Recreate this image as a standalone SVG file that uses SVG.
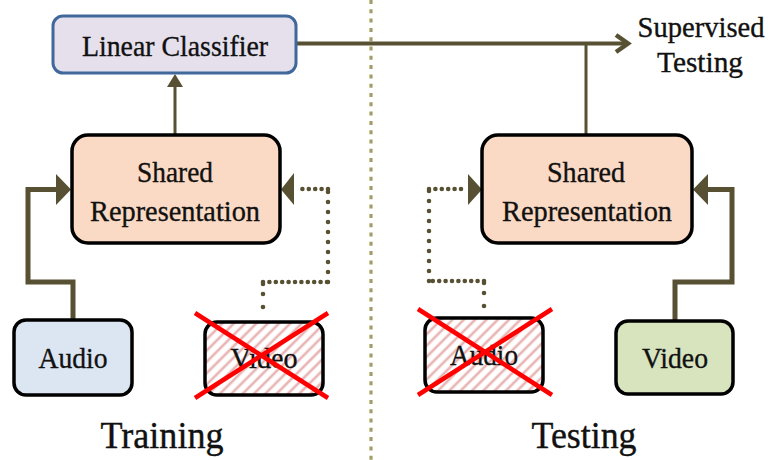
<svg xmlns="http://www.w3.org/2000/svg" width="772" height="460" viewBox="0 0 772 460">
  <defs>
    <pattern id="hatch" width="8" height="8" patternUnits="userSpaceOnUse" patternTransform="rotate(45)">
      <rect width="8" height="8" fill="#ffffff"/>
      <line x1="2" y1="0" x2="2" y2="8" stroke="#e8b4b4" stroke-width="2.6"/>
    </pattern>
    <style>
      .lbl { font-family: "Liberation Serif", "DejaVu Serif", serif; font-size: 30px; fill: #111; stroke: #111; stroke-width: 0.35; text-anchor: middle; }
      .big { font-family: "Liberation Serif", "DejaVu Serif", serif; font-size: 38px; fill: #111; stroke: #111; stroke-width: 0.4; text-anchor: middle; }
      .box { stroke: #000; stroke-width: 3.5; }
      .wire { fill: none; stroke: #575032; stroke-linejoin: miter; }
      .dotsH { fill: none; stroke: #575032; stroke-width: 4.6; stroke-linecap: round; stroke-dasharray: 0 6.4; }
      .dotsV { fill: none; stroke: #575032; stroke-width: 4.6; stroke-linecap: round; stroke-dasharray: 0 10; }
      .head { fill: #575032; }
      .cross { stroke: #ff0000; stroke-width: 4.5; }
    </style>
  </defs>

  <rect width="772" height="460" fill="#ffffff"/>

  <!-- divider between the two phases -->
  <line x1="371" y1="0" x2="371" y2="460" stroke="#a39e67" stroke-width="3.2" stroke-dasharray="4 5.3"/>

  <!-- connectors -->
  <g id="connectors">
    <!-- shared representation to classifier -->
    <line class="wire" x1="175" y1="135" x2="175" y2="86" stroke-width="3"/>
    <polygon class="head" points="175,74 167,87 183,87"/>
    <!-- classifier output to supervised testing -->
    <line class="wire" x1="297" y1="43.5" x2="626" y2="43.5" stroke-width="4"/>
    <polyline class="wire" points="616,35 628,43.5 616,52" stroke-width="4.5"/>
    <!-- testing representation joins output -->
    <line class="wire" x1="586" y1="43" x2="586" y2="135" stroke-width="3"/>

    <!-- training: audio to shared representation -->
    <polyline class="wire" points="73,320 73,282 28,282 28,189.5 58,189.5" stroke-width="5"/>
    <polygon class="head" points="71,189.5 56,174 56,205"/>
    <!-- training: missing video (dotted) -->
    <circle cx="263" cy="307" r="2.3" fill="#575032"/>
    <path class="dotsV" d="M263,294 V282"/>
    <path class="dotsH" d="M263,282 H328"/>
    <path class="dotsV" d="M328,282 V189"/>
    <path class="dotsH" d="M328,189 H296"/>
    <polygon class="head" points="281,189.5 294,173 294,205"/>

    <!-- testing: video to shared representation -->
    <polyline class="wire" points="675,321 675,282 732,282 732,189.5 706,189.5" stroke-width="5"/>
    <polygon class="head" points="693,189.5 708,174 708,205"/>
    <!-- testing: missing audio (dotted) -->
    <circle cx="484" cy="306" r="2.3" fill="#575032"/>
    <path class="dotsV" d="M484,293 V281"/>
    <path class="dotsH" d="M484,281 H429"/>
    <path class="dotsV" d="M429,281 V189"/>
    <path class="dotsH" d="M429,189 H466"/>
    <polygon class="head" points="482,189.5 468,174 468,205"/>
  </g>

  <!-- nodes -->
  <g id="linear-classifier">
    <rect x="53" y="16" width="243" height="57" rx="10" fill="#e5e0ec" stroke="#41689b" stroke-width="3"/>
    <text class="lbl" x="175" y="56" textLength="186" lengthAdjust="spacingAndGlyphs">Linear Classifier</text>
  </g>

  <g id="shared-train">
    <rect class="box" x="72" y="135" width="208" height="108" rx="16" fill="#fbdac5"/>
    <text class="lbl" x="175" y="182" textLength="76" lengthAdjust="spacingAndGlyphs">Shared</text>
    <text class="lbl" x="175" y="221" textLength="170" lengthAdjust="spacingAndGlyphs">Representation</text>
  </g>

  <g id="shared-test">
    <rect class="box" x="482" y="135" width="210" height="108" rx="16" fill="#fbdac5"/>
    <text class="lbl" x="586" y="182" textLength="78" lengthAdjust="spacingAndGlyphs">Shared</text>
    <text class="lbl" x="587" y="221" textLength="170" lengthAdjust="spacingAndGlyphs">Representation</text>
  </g>

  <g id="audio-train">
    <rect class="box" x="14" y="320" width="118" height="75" rx="12" fill="#dce6f2"/>
    <text class="lbl" x="73" y="368" textLength="69" lengthAdjust="spacingAndGlyphs">Audio</text>
  </g>

  <g id="video-train">
    <rect class="box" x="205" y="322" width="118" height="73" rx="12" fill="url(#hatch)"/>
    <text class="lbl" x="264" y="368" textLength="67" lengthAdjust="spacingAndGlyphs">Video</text>
    <line class="cross" x1="195" y1="313" x2="328" y2="398"/>
    <line class="cross" x1="328" y1="313" x2="195" y2="398"/>
  </g>

  <g id="audio-test">
    <rect class="box" x="425" y="318" width="118" height="74" rx="12" fill="url(#hatch)"/>
    <text class="lbl" x="484" y="365" textLength="68" lengthAdjust="spacingAndGlyphs">Audio</text>
    <line class="cross" x1="418" y1="309" x2="552" y2="395"/>
    <line class="cross" x1="552" y1="309" x2="418" y2="395"/>
  </g>

  <g id="video-test">
    <rect class="box" x="616" y="321" width="117" height="73" rx="12" fill="#d7e4bd"/>
    <text class="lbl" x="675" y="368" textLength="66" lengthAdjust="spacingAndGlyphs">Video</text>
  </g>

  <g id="supervised-testing">
    <text class="lbl" x="701" y="37" textLength="127" lengthAdjust="spacingAndGlyphs">Supervised</text>
    <text class="lbl" x="700" y="72" textLength="86" lengthAdjust="spacingAndGlyphs">Testing</text>
  </g>

  <!-- phase titles -->
  <text class="big" x="162" y="448" textLength="123" lengthAdjust="spacingAndGlyphs">Training</text>
  <text class="big" x="584" y="448" textLength="105" lengthAdjust="spacingAndGlyphs">Testing</text>
</svg>
